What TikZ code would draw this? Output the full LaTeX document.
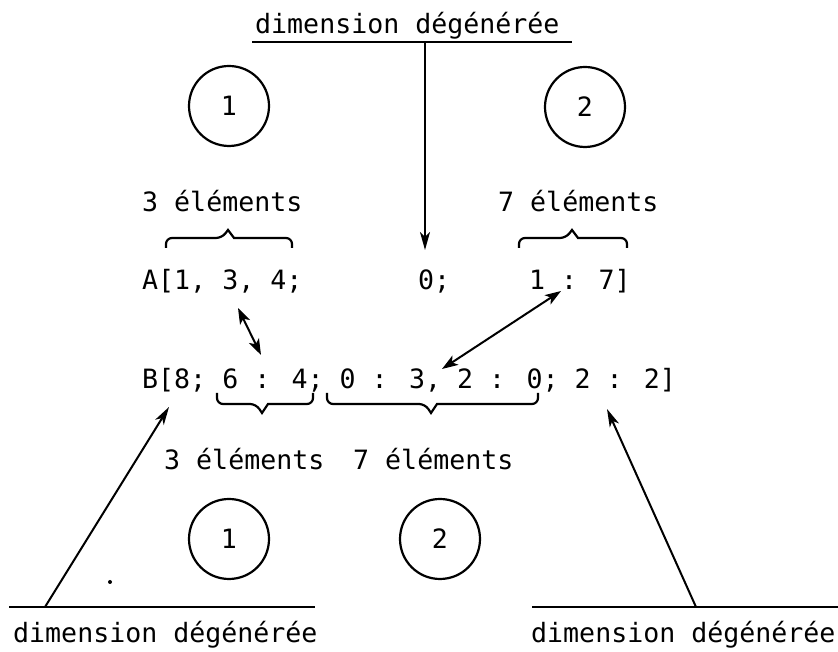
\documentclass[tikz,border=0pt]{standalone}
\usepackage{fontspec}
\newfontfamily\tw{DejaVu Sans Mono}
\usetikzlibrary{arrows.meta}
\tikzset{
    txt/.style={anchor=base west, inner sep=0pt, font=\tw\fontsize{26.6}{30}\selectfont},
    num/.style={circle, draw, line width=2.2pt, minimum size=80pt, inner sep=0pt,
        font=\tw\fontsize{26.6}{30}\selectfont},
    arr/.style={line width=2pt, -{Stealth[length=18pt,width=10pt,inset=5pt]}},
    darr/.style={line width=2pt, {Stealth[length=16pt,width=11pt,inset=4pt]}-{Stealth[length=16pt,width=11pt,inset=4pt]}},
    brc/.style={line width=2.2pt, rounded corners=6pt},
}
\begin{document}
\begin{tikzpicture}[x=1pt, y=1pt]
            \useasboundingbox (0, 0) rectangle (838, 652);
            % top
            \node[txt] (dtop) at (255, 618) {dimension dégénérée};
            \draw[line width=2.2pt] (252, 610) -- (572, 610);
            \coordinate (ttop) at (425, 610);
            \coordinate (tzero) at (425, 402);
            \node[num] (ca1) at (229, 546) {1};
            \node[num] (ca2) at (585, 545) {2};
            \node[txt] (na1) at (142, 440) {3 éléments};
            \node[txt] (na2) at (498, 440) {7 éléments};
            \draw[brc] (166, 404) |- (222, 414) [sharp corners] -- (228, 422) -- (234, 414)
                [rounded corners=6pt] -| (292, 404);
            \draw[brc] (519, 404) |- (566, 414) [sharp corners] -- (572, 422) -- (578, 414)
                [rounded corners=6pt] -| (627, 404);
            % line A
            \node[txt] (a1) at (142, 362) {A[1, 3, 4;};
            \node[txt] (a2) at (418, 362) {0;};
            \node[txt] (a3) at (529, 362) {1 : 7]};
            % line B
            \node[txt] (b) at (142, 263) {B[8; 6 : 4; 0 : 3, 2 : 0; 2 : 2]};
            \draw[brc] (217, 259) |- (256, 248) [sharp corners] -- (262, 239) -- (268, 248)
                [rounded corners=6pt] -| (313, 259);
            \draw[brc] (327, 259) |- (425, 248) [sharp corners] -- (431, 239) -- (437, 248)
                [rounded corners=6pt] -| (538, 259);
            \node[txt] (nb1) at (164, 182) {3 éléments};
            \node[txt] (nb2) at (353, 182) {7 éléments};
            \node[num] (cb1) at (229, 113) {1};
            \node[num] (cb2) at (440, 113) {2};
            % bottom
            \node[txt] (dleft) at (13, 9) {dimension dégénérée};
            \node[txt] (dright) at (531, 9) {dimension dégénérée};
            \draw[line width=2.2pt] (9, 45) -- (315, 45);
            \draw[line width=2.2pt] (532, 45) -- (838, 45);
            \coordinate (lfoot) at (45, 45);
            \coordinate (rfoot) at (696, 45);
            \coordinate (bleft) at (169, 245);
            \coordinate (bright) at (607, 243);
            \coordinate (a3x) at (238, 344);
            \coordinate (b6x) at (261, 297);
            \coordinate (a1x) at (561, 361);
            \coordinate (b2x) at (442, 283);
            % arrows
            \draw[arr] (ttop) -- (tzero);
            \draw[darr] (a3x) -- (b6x);
            \draw[darr] (a1x) -- (b2x);
            \draw[arr] (lfoot) -- (bleft);
            \draw[arr] (rfoot) -- (bright);
            \fill (110, 70) circle (2pt);
\end{tikzpicture}
\end{document}
